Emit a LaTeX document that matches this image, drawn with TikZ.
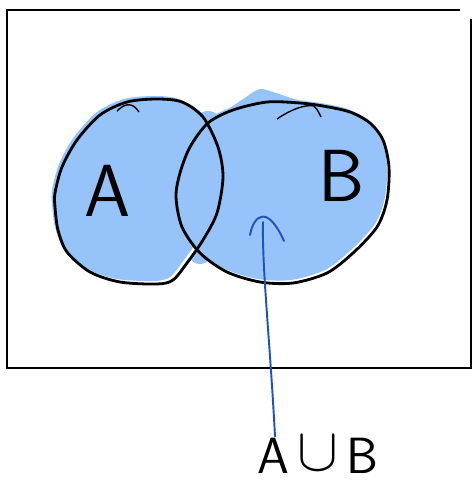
\documentclass[tikz,border=0pt]{standalone}
\usepackage{graphicx}
\usetikzlibrary{calc}

\definecolor{setfill}{RGB}{150,196,250}
\definecolor{pen}{RGB}{32,82,190}

\begin{document}
\begin{tikzpicture}[
	x=0.02cm,
	y=-0.02cm,
	outline/.style={draw=black, line width=1.6pt, line join=round, line cap=round},
	frame/.style={draw=black, line width=1.1pt},
	setlabel/.style={font=\sffamily\fontsize{42}{42}\selectfont, inner sep=0pt},
	unionlabel/.style={font=\sffamily\fontsize{29}{29}\selectfont, inner sep=0pt},
	pointer/.style={draw=pen, line width=1.1pt, line cap=round}
]
\useasboundingbox (0,0) rectangle (472,481);

% universe
\draw[frame] (460,10) -- (7,10) -- (7,368) -- (471,368) -- (471,19);

% shading of the union
\fill[setfill, shift={(-3,-3)}] plot[smooth cycle] coordinates {
	(55,207) (58,230) (67,252) (90,272) (120,282) (157,284) (173,280)
	(187,263) (203,240) (217,213) (223,177) (218,147) (203,117) (182,102)
	(157,99) (127,102) (100,115) (77,140) (62,167) (55,193)};
\fill[setfill, shift={(-2,-3)}] plot[smooth cycle] coordinates {
	(176,197) (180,173) (190,147) (208,123) (233,110) (248,100) (262,92)
	(278,96) (300,103) (323,106) (350,112) (370,123) (383,140) (389,167)
	(387,200) (377,227) (353,253) (327,273) (293,283) (260,282) (227,272)
	(200,253) (182,227)};
\fill[setfill] (208,117) ellipse[x radius=10, y radius=6];
\fill[setfill] (200,258) ellipse[x radius=9, y radius=6];

% set A
\draw[outline] plot[smooth cycle] coordinates {
	(55,207) (58,230) (67,252) (90,272) (120,282) (157,284) (173,280)
	(187,263) (203,240) (217,213) (223,177) (218,147) (203,117) (182,102)
	(157,99) (127,102) (100,115) (77,140) (62,167) (55,193)};
\draw[line width=0.8pt] (117,111) .. controls (124,104) and (132,101) .. (139,112);

% set B
\draw[outline] plot[smooth cycle] coordinates {
	(176,197) (180,173) (190,147) (208,123) (233,110) (267,102) (300,103)
	(323,106) (350,112) (370,123) (383,140) (389,167) (387,200) (377,227)
	(353,253) (327,273) (293,283) (260,282) (227,272) (200,253) (182,227)};
\draw[line width=0.8pt] (277,119) .. controls (290,110) and (305,104) .. (314,106) .. controls (317,109) .. (321,117);

\node[setlabel] (labA) at (108,191) {A};
\node[setlabel] (labB) at (342,176) {B};

% pointer to the shaded region
\node[unionlabel] (union) at (318,455) {A\,\raisebox{0.05em}{\scalebox{1.4}{$\cup$}}\,B};
\coordinate (tip) at (263,222);
\draw[pointer] (union.north -| 275,0) .. controls (270,340) and (262,270) .. (tip);
\draw[pointer] (250,235) .. controls (254,214) and (268,205) .. (284,241);
\end{tikzpicture}
\end{document}
